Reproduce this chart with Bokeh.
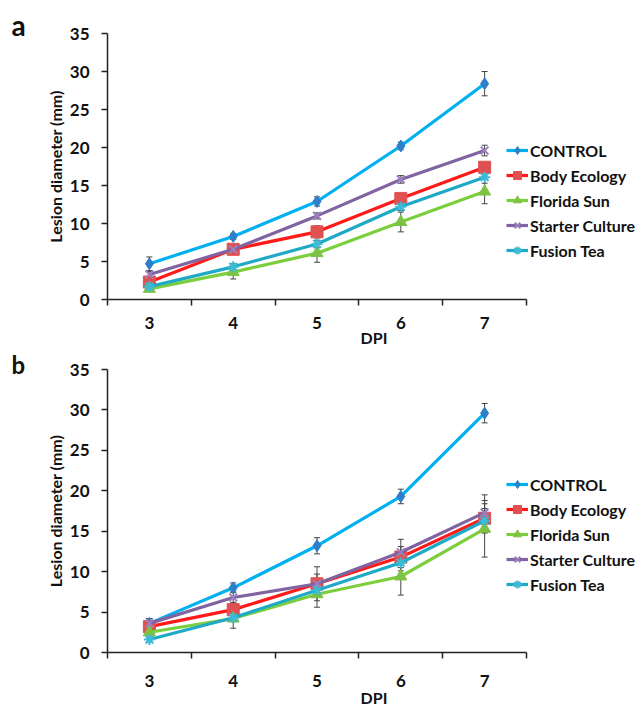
from bokeh.plotting import figure
from bokeh.models import (Range1d, FixedTicker, Whisker, ColumnDataSource, Legend,
                          LegendItem, Title)
from bokeh.layouts import column
from bokeh.embed import file_html
from bokeh.resources import INLINE

days = [3, 4, 5, 6, 7]
series_names = ["CONTROL", "Body Ecology", "Florida Sun", "Starter Culture", "Fusion Tea"]

# Panel a values and errors
a_control = [4.7, 8.3, 12.9, 20.2, 28.4]
a_control_err = [0.9, 0.4, 0.6, 0.5, 1.6]
a_body = [2.3, 6.6, 8.9, 13.3, 17.4]
a_body_err = [0.7, 0.3, 0.8, 0.6, 0.6]
a_florida = [1.4, 3.6, 6.1, 10.2, 14.2]
a_florida_err = [0.3, 0.9, 1.2, 1.3, 1.6]
a_starter = [3.3, 6.6, 11.0, 15.8, 19.6]
a_starter_err = [0.4, 0.3, 0.4, 0.5, 0.7]
a_fusion = [1.7, 4.3, 7.3, 12.2, 16.1]
a_fusion_err = [0.3, 0.4, 0.5, 0.5, 0.8]

# Panel b values and errors
b_control = [3.6, 8.0, 13.2, 19.3, 29.6]
b_control_err = [0.6, 0.6, 1.0, 0.9, 1.2]
b_body = [3.2, 5.3, 8.5, 11.8, 16.6]
b_body_err = [0.5, 0.9, 1.2, 1.3, 1.8]
b_florida = [2.5, 4.2, 7.2, 9.4, 15.3]
b_florida_err = [0.4, 1.2, 1.6, 2.3, 3.5]
b_starter = [3.6, 6.8, 8.5, 12.4, 17.3]
b_starter_err = [0.6, 0.7, 2.1, 1.6, 2.2]
b_fusion = [1.6, 4.3, 7.7, 11.1, 16.3]
b_fusion_err = [0.3, 0.5, 0.8, 1.0, 1.5]

y_ticks = [0, 5, 10, 15, 20, 25, 30, 35]

line_colors = ["#00B0F0", "#FF1A1A", "#7CCF3C", "#8064A2", "#1FA9C6"]
marker_colors = ["#2E7FC8", "#E05050", "#7DC242", "#9A80C0", "#3DBAD6"]
markers = ["diamond", "square", "triangle", "x", "asterisk"]
marker_sizes = [12, 12, 12, 11, 11]

FONT = "Lato"


def make_panel(tag, vals, errs, height, top, bottom, leg_y, tick_standoff,
               xlabel_standoff, title_standoff, title_size):
    p = figure(width=644, height=height, output_backend="svg", toolbar_location=None,
               x_range=Range1d(2.5, 8.86), y_range=Range1d(0, 35),
               min_border_left=107, min_border_right=4,
               min_border_top=top, min_border_bottom=bottom)
    p.title = Title(text=tag, align="left", offset=-96, standoff=title_standoff,
                    text_font=FONT, text_font_style="bold", text_font_size=title_size,
                    text_color="#111111")
    p.outline_line_color = None
    p.xgrid.visible = False
    p.ygrid.visible = False
    p.background_fill_color = "white"

    p.xaxis.ticker = FixedTicker(ticks=days, minor_ticks=[2.5, 3.5, 4.5, 5.5, 6.5, 7.5])
    p.xaxis.bounds = (2.5, 7.5)
    p.yaxis.ticker = FixedTicker(ticks=y_ticks, minor_ticks=[])
    for ax in (p.xaxis[0], p.yaxis[0]):
        ax.axis_line_color = "#222222"
        ax.axis_line_width = 1.5
        ax.major_tick_line_color = "#222222"
        ax.major_tick_line_width = 1.5
        ax.minor_tick_line_color = "#222222"
        ax.minor_tick_line_width = 1.5
        ax.major_tick_in = 0
        ax.minor_tick_in = 0
        ax.major_label_text_font = FONT
        ax.major_label_text_font_style = "bold"
        ax.major_label_text_font_size = "17px"
        ax.major_label_text_color = "#111111"
        ax.axis_label_text_font = FONT
        ax.axis_label_text_font_style = "bold"
        ax.axis_label_text_font_size = "16px"
        ax.axis_label_text_color = "#111111"
    p.xaxis.major_tick_out = 0
    p.xaxis.minor_tick_out = 6
    p.xaxis.major_label_standoff = tick_standoff
    p.xaxis.axis_label = "DPI"
    p.xaxis.axis_label_standoff = xlabel_standoff
    p.yaxis.major_tick_out = 6
    p.yaxis.minor_tick_out = 0
    p.yaxis.major_label_standoff = 12
    p.yaxis.axis_label = "Lesion diameter (mm)"
    p.yaxis.axis_label_standoff = 2

    items = []
    for i, name in enumerate(series_names):
        y = vals[i]
        e = errs[i]
        src = ColumnDataSource(dict(x=days, y=y,
                                    lo=[a - b for a, b in zip(y, e)],
                                    hi=[a + b for a, b in zip(y, e)]))
        ln = p.line("x", "y", source=src, line_color=line_colors[i], line_width=3.2)
        sc = p.scatter("x", "y", source=src, marker=markers[i], size=marker_sizes[i],
                       fill_color=marker_colors[i], line_color=marker_colors[i],
                       line_width=2 if markers[i] in ("x", "asterisk") else 1)
        w = Whisker(source=src, base="x", lower="lo", upper="hi",
                    line_color="#444444", line_width=1)
        w.upper_head.size = 6
        w.lower_head.size = 6
        w.upper_head.line_color = "#444444"
        w.lower_head.line_color = "#444444"
        w.upper_head.line_width = 1
        w.lower_head.line_width = 1
        p.add_layout(w)
        items.append(LegendItem(label=name, renderers=[ln, sc]))

    leg = Legend(items=items, location=(399, leg_y), orientation="vertical",
                 padding=0, margin=0, spacing=5, glyph_width=22, glyph_height=20,
                 label_height=20, label_standoff=2,
                 label_text_font=FONT, label_text_font_style="bold",
                 label_text_font_size="16px", label_text_color="#111111",
                 border_line_color=None, background_fill_alpha=0)
    p.add_layout(leg, "center")
    return p


pa = make_panel("a",
                [a_control, a_body, a_florida, a_starter, a_fusion],
                [a_control_err, a_body_err, a_florida_err, a_starter_err, a_fusion_err],
                height=349, top=33, bottom=40, leg_y=39, tick_standoff=11,
                xlabel_standoff=-4, title_standoff=-16, title_size="28px")
pb = make_panel("b",
                [b_control, b_body, b_florida, b_starter, b_fusion],
                [b_control_err, b_body_err, b_florida_err, b_starter_err, b_fusion_err],
                height=360, top=20, bottom=40, leg_y=58, tick_standoff=16,
                xlabel_standoff=-2, title_standoff=-19, title_size="24px")

layout = column(pa, pb, spacing=0)
open("out.html", "w").write(file_html(layout, INLINE))
